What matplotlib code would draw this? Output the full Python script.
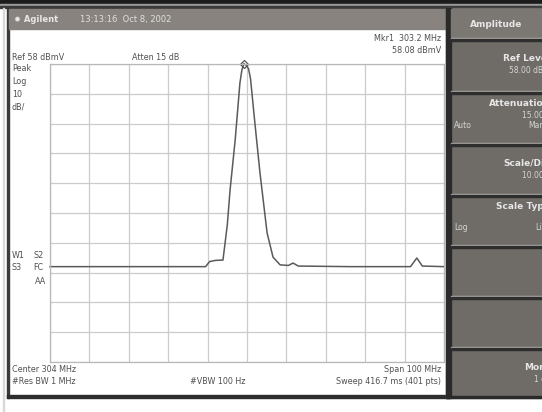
import numpy as np
import matplotlib.pyplot as plt
from matplotlib.patches import Rectangle

# spectrum trace (MHz, dBmV)
freq = [254.0, 270.0, 285.0, 293.5, 294.5, 296.0, 297.9, 299.0, 299.7, 301.0, 302.2,
        302.7, 303.2, 303.8, 304.4, 304.9, 306.0, 307.3, 309.1, 310.6, 312.4, 314.5,
        315.7, 317.0, 330.0, 345.5, 347.1, 348.5, 354.0]
level = [-10.0, -10.0, -10.0, -10.0, -8.3, -7.9, -7.8, 4.0, 15.7, 32.5, 51.6,
         56.0, 58.08, 57.6, 56.4, 53.0, 38.2, 21.4, 1.3, -6.8, -9.4, -9.6,
         -8.8, -9.8, -10.0, -10.0, -7.1, -9.8, -10.0]

center = 304.0
span = 100.0
ref_level = 58.0
db_div = 10.0
mkr_freq = 303.2
mkr_level = 58.08

softkeys = [("Ref Level", "58.00 dBmV"), ("Attenuation", "15.00 dB"),
            ("Scale/Div", "10.00 dB"), ("Scale Type", ""), ("", ""), ("", ""),
            ("More", "1 of 2")]

W, H = 542, 412
fig = plt.figure(figsize=(W / 100, H / 100), dpi=100)
bg = fig.add_axes([0, 0, 1, 1])
bg.set_xlim(0, W)
bg.set_ylim(H, 0)
bg.axis("off")

txt = dict(fontsize=5.8, color="#505050", family="DejaVu Sans")

# top frame strips
bg.add_patch(Rectangle((0, 0), W, 3.5, color="#1c1c1c"))
bg.add_patch(Rectangle((0, 3.5), W, 2, color="#9a9a9a"))
bg.add_patch(Rectangle((0, 5.5), W, 2.5, color="#3a3a3a"))
# left border
bg.add_patch(Rectangle((6.5, 8), 2.5, 390, color="#3a3a3a"))
bg.add_patch(Rectangle((2.5, 8), 1, 404, color="#d8d8d8"))
# title bar
bg.add_patch(Rectangle((9, 9), 440, 20, color="#88837e"))
bg.text(14, 19, "\u2739 Agilent", fontsize=6, color="#e8e8e8", va="center", weight="bold")
bg.text(80, 19, "13:13:16  Oct 8, 2002", fontsize=6, color="#e0e0e0", va="center")
# bottom of screen
bg.add_patch(Rectangle((6.5, 395), 442, 3, color="#2e2e2e"))

# right softkey panel (labels run off the right edge, as on the screenshot)
bg.add_patch(Rectangle((446, 8), W - 446, 390, color="#6f6b67"))
bg.add_patch(Rectangle((446, 8), 5, 390, color="#2a2a2a"))
bg.add_patch(Rectangle((451, 9), W - 451, 28, color="#7b7773"))
bg.text(496, 24, "Amplitude", fontsize=6.5, color="#e6e6e6", ha="center", va="center",
        weight="bold")
tops = [40, 93, 145, 196, 247, 298, 349]
for (name, sub), top in zip(softkeys, tops):
    bg.add_patch(Rectangle((451, top - 2.5), W - 451, 1.5, color="#b0aca8"))
    bg.add_patch(Rectangle((451, top - 1), W - 451, 1.5, color="#2e2e2e"))
    ty = top + 18 if name not in ("Attenuation", "Scale Type") else top + 10
    if name:
        bg.text(550, ty, name, fontsize=6.5, color="#e6e6e6", ha="right", va="center",
                weight="bold")
    if sub:
        bg.text(556, ty + 12, sub, fontsize=5.5, color="#d6d6d6", ha="right", va="center")
bg.text(454, 125, "Auto", fontsize=5.5, color="#d6d6d6", va="center")
bg.text(528, 125, "Man", fontsize=5.5, color="#d6d6d6", va="center")
bg.text(454, 227, "Log", fontsize=5.5, color="#d6d6d6", va="center")
bg.text(535, 227, "Lin", fontsize=5.5, color="#d6d6d6", va="center")
bg.add_patch(Rectangle((446, 396), W - 446, 2, color="#2a2a2a"))

# screen annotations
bg.text(12, 57, "Ref 58 dBmV", va="center", **txt)
bg.text(132, 57, "Atten 15 dB", va="center", **txt)
bg.text(441, 38, "Mkr1  303.2 MHz", ha="right", va="center", **txt)
bg.text(441, 50, "58.08 dBmV", ha="right", va="center", **txt)
for i, s in enumerate(["Peak", "Log", "10", "dB/"]):
    bg.text(12, 68 + 13 * i, s, va="center", **txt)
bg.text(12, 255, "W1", va="center", **txt)
bg.text(33, 255, "S2", va="center", **txt)
bg.text(12, 268, "S3", va="center", **txt)
bg.text(33, 268, "FC", va="center", **txt)
bg.text(35, 282, "AA", va="center", **txt)
bg.text(12, 369, "Center 304 MHz", va="center", **txt)
bg.text(12, 381, "#Res BW 1 MHz", va="center", **txt)
bg.text(190, 381, "#VBW 100 Hz", va="center", **txt)
bg.text(441, 369, "Span 100 MHz", ha="right", va="center", **txt)
bg.text(441, 381, "Sweep 416.7 ms (401 pts)", ha="right", va="center", **txt)

# graticule
x0, x1, y0, y1 = 50, 444, 64, 362
ax = fig.add_axes([x0 / W, 1 - y1 / H, (x1 - x0) / W, (y1 - y0) / H])
ax.set_facecolor("white")
ax.set_xlim(center - span / 2, center + span / 2)
ax.set_ylim(ref_level - 10 * db_div, ref_level)
ax.set_xticks(np.linspace(center - span / 2, center + span / 2, 11))
ax.set_yticks(np.linspace(ref_level - 10 * db_div, ref_level, 11))
ax.grid(True, color="#cbcbcb", linewidth=0.9)
ax.tick_params(length=0, labelbottom=False, labelleft=False)
for sp in ax.spines.values():
    sp.set_color("#b8b8b8")
    sp.set_linewidth(0.9)

ax.plot(freq, level, color="#5a5a5a", linewidth=1.1, clip_on=False)
ax.plot([mkr_freq], [mkr_level], marker="D", markersize=4, markerfacecolor="none",
        markeredgecolor="#505050", markeredgewidth=0.9, clip_on=False)

fig.savefig("out.png", dpi=100)
